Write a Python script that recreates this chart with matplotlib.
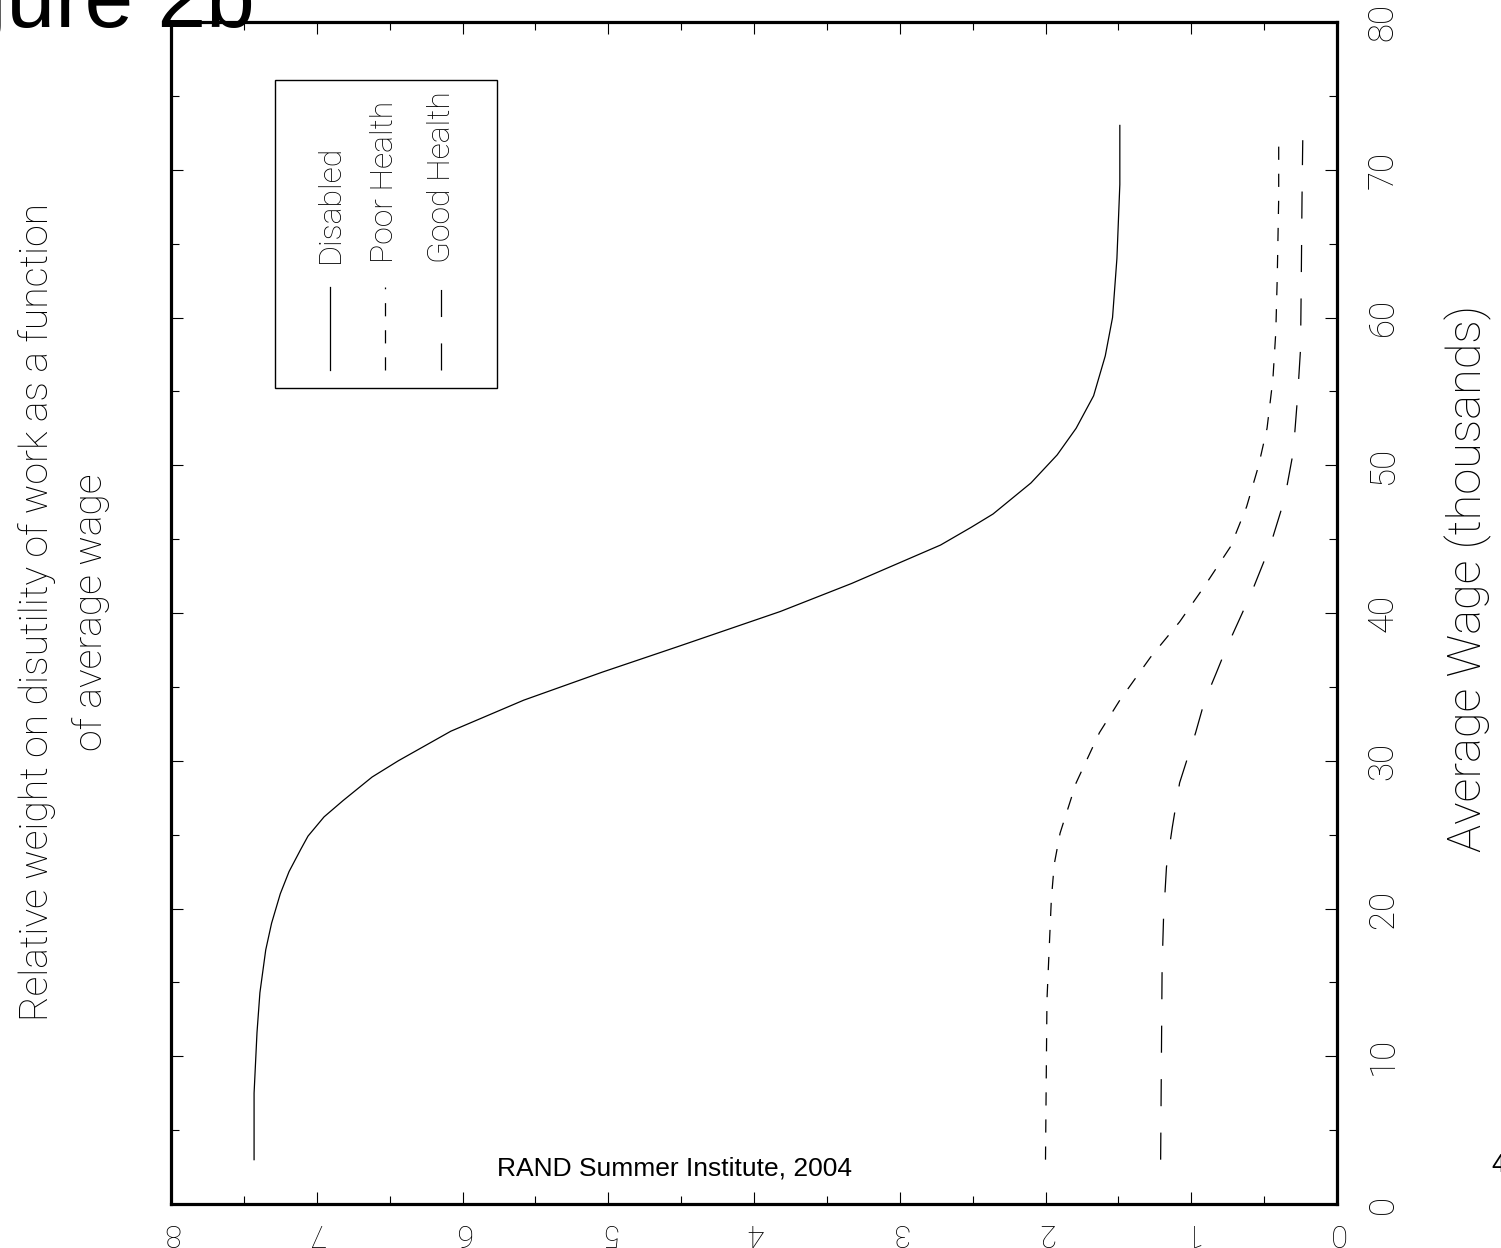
import matplotlib
matplotlib.use("Agg")
import matplotlib.pyplot as plt
from matplotlib.patches import Rectangle
from matplotlib.ticker import MultipleLocator

plt.rcParams["lines.scale_dashes"] = False

# wage (thousands) on the vertical axis, relative weight on the horizontal axis
disabled_wage = [3, 7.5, 11.6, 14.3, 17.2, 19.0, 21.0, 22.5, 24.0, 24.9, 26.2, 27.3, 28.9, 30.0,
                 32.0, 34.1, 36.0, 37.7, 40.1, 42.0, 44.6, 45.8, 46.7, 48.8, 50.7, 52.5, 54.7,
                 57.4, 60.0, 64.0, 69.0, 73.0]
disabled_weight = [7.43, 7.43, 7.41, 7.39, 7.35, 7.31, 7.25, 7.19, 7.11, 7.06, 6.95, 6.82, 6.62, 6.44,
                   6.08, 5.58, 5.04, 4.53, 3.82, 3.33, 2.72, 2.51, 2.36, 2.10, 1.92, 1.79, 1.67,
                   1.59, 1.54, 1.51, 1.49, 1.49]

poor_wage = [3, 13.8, 20.6, 23.0, 25.1, 28.5, 31.9, 34.1, 37.0, 39.4, 41.8, 44.5, 47.2, 49.9,
             52.5, 55.8, 59.0, 62.7, 68.1, 72.2]
poor_weight = [2.00, 1.99, 1.96, 1.94, 1.90, 1.79, 1.63, 1.49, 1.28, 1.08, 0.91, 0.73, 0.62, 0.54,
               0.48, 0.44, 0.42, 0.41, 0.40, 0.40]

good_wage = [3, 16.0, 19.4, 22.8, 25.5, 28.5, 31.9, 34.0, 35.9, 37.6, 41.3, 44.5, 47.7, 50.9,
             54.7, 57.9, 62.7, 68.1, 72.0]
good_weight = [1.21, 1.20, 1.19, 1.17, 1.13, 1.08, 0.97, 0.91, 0.83, 0.76, 0.59, 0.46, 0.36, 0.30,
               0.27, 0.25, 0.245, 0.24, 0.235]

weight_ticks = [0, 1, 2, 3, 4, 5, 6, 7, 8]
wage_ticks = [0, 10, 20, 30, 40, 50, 60, 70, 80]

thin = dict(family=["Roboto", "DejaVu Sans"], fontweight="light")

W, H = 1501, 1248
fig = plt.figure(figsize=(W / 100, H / 100), dpi=100)
ax = fig.add_axes([171 / W, 1 - 1204 / H, (1337 - 171) / W, (1204 - 22) / H])

ax.plot(disabled_weight, disabled_wage, color="black", lw=0.9)
ax.plot(poor_weight, poor_wage, color="black", lw=0.9, dashes=(9.5, 10))
ax.plot(good_weight, good_wage, color="black", lw=0.9, dashes=(19.5, 19))

ax.set_xlim(8, 0)
ax.set_ylim(0, 80)
ax.set_xticks(weight_ticks)
ax.set_xticklabels([str(t) for t in weight_ticks], rotation=180, fontsize=22, **thin)
ax.set_yticks(wage_ticks)
ax.set_yticklabels([str(t) for t in wage_ticks], rotation=90, fontsize=25, va="center", **thin)
ax.xaxis.set_minor_locator(MultipleLocator(0.5))
ax.yaxis.set_minor_locator(MultipleLocator(5))
ax.tick_params(which="both", direction="in", top=True, bottom=True, left=True, right=True,
               labelleft=False, labelright=True, width=0.8, color="black")
ax.tick_params(which="major", length=8.5)
ax.tick_params(which="minor", length=6)
ax.tick_params(axis="x", pad=10)
ax.tick_params(axis="y", pad=21)
for s in ax.spines.values():
    s.set_linewidth(2.3)

# legend drawn by hand (rotated like the rest of the chart)
ax.add_patch(Rectangle((0.0892, 0.690), 0.1904, 0.261, transform=ax.transAxes,
                       fill=False, lw=1.0, ec="black"))
legend_items = [("Disabled", None, 0.1364), ("Poor Health", (9.5, 10), 0.1835),
                ("Good Health", (19.5, 19), 0.2316)]
for name, dash, lx in legend_items:
    if dash is None:
        ax.plot([lx, lx], [0.7056, 0.7758], transform=ax.transAxes, color="black", lw=0.9)
    else:
        ax.plot([lx, lx], [0.7056, 0.7758], transform=ax.transAxes, color="black", lw=0.9,
                dashes=dash)
    ax.text(lx, 0.796, name, transform=ax.transAxes, rotation=90, ha="center", va="bottom",
            fontsize=23, **thin)

ax.text(0.432, 0.024, "RAND Summer Institute, 2004", transform=ax.transAxes, ha="center",
        va="baseline", fontsize=19, family="Liberation Sans")

fig.text(64 / W, 1 - 612 / H,
         "Relative weight on disutility of work as a function\nof average wage",
         rotation=90, ha="center", va="center", multialignment="center",
         linespacing=1.55, fontsize=28.2, **thin)
fig.text(1468 / W, 1 - 578 / H, "Average Wage (thousands)", rotation=90, ha="center",
         va="center", fontsize=33.8, **thin)
fig.text(255 / W, 1 - 27 / H, "Figure 2b", ha="right", va="baseline", fontsize=63,
         family="Liberation Sans")
fig.text(1491 / W, 1 - 1172 / H, "4", ha="left", va="baseline", fontsize=18,
         family="Liberation Sans")

fig.savefig("out.png", dpi=100)
